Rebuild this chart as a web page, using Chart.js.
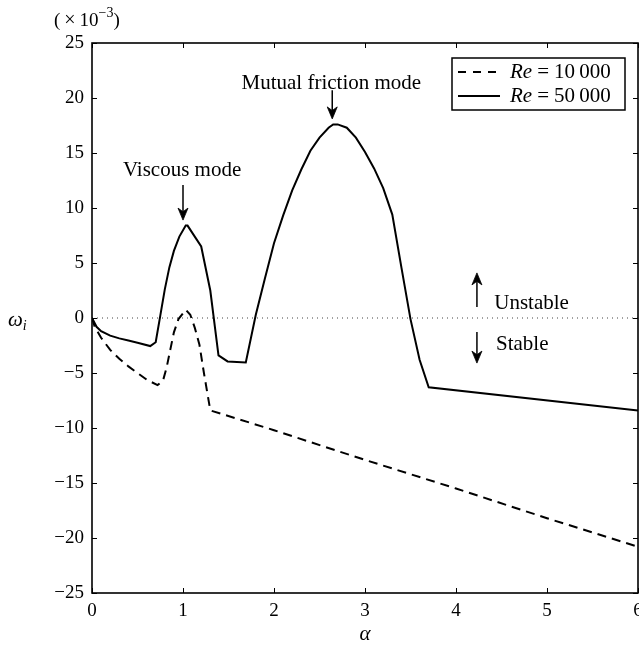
<!DOCTYPE html>
<html>
<head>
<meta charset="utf-8">
<script src="https://cdn.jsdelivr.net/npm/chart.js@4.4.1/dist/chart.umd.min.js"></script>
<style>
html,body{margin:0;padding:0;background:#fff;}
#wrap{width:639px;height:648px;}
</style>
</head>
<body>
<div id="wrap"><canvas id="c" width="639" height="648"></canvas></div>
<script>
// ---- data (omega_i in units of 1e-3) ----
const alphaRe10k = [0,0.03,0.1,0.2,0.3,0.4,0.5,0.6,0.72,0.78,0.82,0.86,0.9,0.95,1.03,1.08,1.13,1.18,1.23,1.3,2,3,4,5,6];
const omegaRe10k = [0,-0.8,-1.8,-2.9,-3.7,-4.4,-5.0,-5.6,-6.1,-5.7,-4.5,-2.9,-1.3,-0.1,0.75,0.3,-0.9,-2.4,-5.0,-8.4,-10.2,-12.9,-15.5,-18.2,-20.8];

const alphaRe50k = [0,0.05,0.1,0.2,0.3,0.4,0.5,0.64,0.7,0.75,0.8,0.85,0.9,0.96,1.03,1.05,1.2,1.3,1.39,1.49,1.69,1.8,1.9,2.0,2.1,2.2,2.3,2.4,2.5,2.6,2.65,2.7,2.8,2.9,3.0,3.1,3.2,3.3,3.4,3.5,3.6,3.7,6];
const omegaRe50k = [0,-0.8,-1.2,-1.6,-1.85,-2.05,-2.25,-2.55,-2.2,0.2,2.6,4.6,6.1,7.4,8.4,8.4,6.5,2.5,-3.4,-3.95,-4.05,0.3,3.6,6.8,9.3,11.6,13.5,15.2,16.4,17.3,17.6,17.6,17.3,16.4,15.1,13.6,11.8,9.4,4.6,-0.1,-3.8,-6.3,-8.4];

const seriesLabels = ['Re = 10\u2009000', 'Re = 50\u2009000'];
const xTicks = [0,1,2,3,4,5,6];
const yTicks = [-25,-20,-15,-10,-5,0,5,10,15,20,25];

const SERIF = '"Liberation Serif", "DejaVu Serif", serif';

function pts(xs, ys){ return xs.map((x,i)=>({x:x, y:ys[i]})); }

const overlay = {
  id:'overlay',
  afterDraw(chart){
    const ctx = chart.ctx, a = chart.chartArea;
    const xs = chart.scales.x, ys = chart.scales.y;
    const X = v=>xs.getPixelForValue(v), Y = v=>ys.getPixelForValue(v);
    ctx.save();
    // frame
    ctx.strokeStyle='#000'; ctx.lineWidth=1.6;
    ctx.strokeRect(a.left, a.top, a.right-a.left, a.bottom-a.top);
    // inward ticks
    ctx.lineWidth=1;
    const tl=5;
    ctx.beginPath();
    xTicks.forEach(t=>{ const px=Math.round(X(t))+0.5;
      ctx.moveTo(px,a.bottom); ctx.lineTo(px,a.bottom-tl);
      ctx.moveTo(px,a.top); ctx.lineTo(px,a.top+tl); });
    yTicks.forEach(t=>{ const py=Math.round(Y(t))+0.5;
      ctx.moveTo(a.left,py); ctx.lineTo(a.left+tl,py);
      ctx.moveTo(a.right,py); ctx.lineTo(a.right-tl,py); });
    ctx.stroke();

    // arrows
    function arrow(x1,y1,x2,y2){
      ctx.strokeStyle='#000'; ctx.fillStyle='#000'; ctx.lineWidth=1.5;
      const ang=Math.atan2(y2-y1,x2-x1), L=12, W=5;
      const ux=Math.cos(ang), uy=Math.sin(ang);
      ctx.beginPath(); ctx.moveTo(x1,y1);
      ctx.lineTo(x2-ux*7, y2-uy*7); ctx.stroke();
      const bx=x2-ux*L, by=y2-uy*L;
      const nx=-uy, ny=ux;
      const mx=x2-ux*L*0.7, my=y2-uy*L*0.7;
      ctx.beginPath(); ctx.moveTo(x2,y2);
      ctx.lineTo(bx+nx*W, by+ny*W);
      ctx.lineTo(mx,my);
      ctx.lineTo(bx-nx*W, by-ny*W);
      ctx.closePath(); ctx.fill();
      ctx.lineWidth=0.8; ctx.stroke();
    }
    ctx.fillStyle='#000';
    ctx.font='21px '+SERIF;
    ctx.textBaseline='middle';
    ctx.textAlign='center';
    ctx.fillText('Mutual friction mode', X(2.63), Y(21.3));
    arrow(X(2.64), Y(20.7), X(2.64), Y(18.1));
    ctx.fillText('Viscous mode', X(0.99), Y(13.45));
    arrow(X(1.0), Y(12.1), X(1.0), Y(8.9));
    ctx.textAlign='left';
    arrow(X(4.23), Y(1.0), X(4.23), Y(4.1));
    ctx.fillText('Unstable', X(4.42), Y(1.36));
    arrow(X(4.23), Y(-1.27), X(4.23), Y(-4.1));
    ctx.fillText('Stable', X(4.44), Y(-2.45));

    // legend
    const lx=452, ly=58, lw=173, lh=52;
    ctx.fillStyle='#fff'; ctx.fillRect(lx,ly,lw,lh);
    ctx.strokeStyle='#000'; ctx.lineWidth=1.5; ctx.strokeRect(lx,ly,lw,lh);
    const ds=chart.data.datasets;
    [0,1].forEach((i,k)=>{
      const yy = ly+14+k*24;
      ctx.beginPath(); ctx.strokeStyle='#000'; ctx.lineWidth=2;
      ctx.setLineDash(i===0 ? [8,7] : []);
      ctx.moveTo(458,yy); ctx.lineTo(500,yy); ctx.stroke();
      ctx.setLineDash([]);
      const lab = ds[i].label;
      const parts = lab.split(' = ');
      ctx.fillStyle='#000';
      ctx.font='italic 21px '+SERIF;
      ctx.fillText(parts[0], 510, yy);
      let x = 510 + ctx.measureText(parts[0]).width + 5;
      ctx.font='21px '+SERIF;
      ctx.fillText('=', x, yy);
      x += ctx.measureText('=').width + 5;
      ctx.fillText(parts[1], x, yy);
    });

    // axis labels
    ctx.font='italic 21px '+SERIF;
    ctx.textAlign='center';
    ctx.fillText('\u03b1', X(3), 634);
    ctx.textAlign='left';
    ctx.fillText('\u03c9', 8, 320);
    const ww = ctx.measureText('\u03c9').width;
    ctx.font='italic 14px '+SERIF;
    ctx.fillText('i', 8+ww, 326);
    // multiplier
    ctx.font='19px '+SERIF;
    let x0 = 54;
    ctx.fillText('(', x0, 21); x0 += ctx.measureText('(').width + 4;
    ctx.font='20px '+SERIF;
    ctx.fillText('\u00d7', x0, 21); x0 += ctx.measureText('\u00d7').width + 4;
    ctx.font='19px '+SERIF;
    ctx.fillText('10', x0, 21); x0 += ctx.measureText('10').width;
    ctx.font='14px '+SERIF;
    ctx.fillText('\u22123', x0, 13); x0 += ctx.measureText('\u22123').width;
    ctx.font='19px '+SERIF;
    ctx.fillText(')', x0, 21);
    ctx.restore();
  }
};

new Chart(document.getElementById('c'), {
  type:'line',
  data:{
    datasets:[
      { label: seriesLabels[0], data: pts(alphaRe10k, omegaRe10k), borderColor:'#000', borderWidth:2,
        borderDash:[9,6], pointRadius:0, tension:0, fill:false },
      { label: seriesLabels[1], data: pts(alphaRe50k, omegaRe50k), borderColor:'#000', borderWidth:2,
        pointRadius:0, tension:0, fill:false },
      { label:'zero', data: pts([0,6],[0,0]), borderColor:'#444', borderWidth:1, borderDash:[1,4],
        pointRadius:0, tension:0, fill:false, order:5 }
    ]
  },
  options:{
    responsive:false, animation:false,
    layout:{ padding:{ top:43, right:1, left:0, bottom:0 } },
    plugins:{ legend:{display:false}, tooltip:{enabled:false} },
    scales:{
      x:{ type:'linear', min:0, max:6,
        afterFit(s){ s.height=55; s.paddingLeft=0; s.paddingRight=0; },
        afterBuildTicks(s){ s.ticks = xTicks.map(v=>({value:v})); },
        grid:{ display:false, drawTicks:false }, border:{ display:false },
        ticks:{ color:'#000', font:{ family:SERIF, size:19 }, padding:7, maxRotation:0,
          callback:v=>String(v) } },
      y:{ type:'linear', min:-25, max:25,
        afterFit(s){ s.width=92; s.paddingTop=0; s.paddingBottom=0; },
        afterBuildTicks(s){ s.ticks = yTicks.map(v=>({value:v})); },
        grid:{ display:false, drawTicks:false }, border:{ display:false },
        ticks:{ color:'#000', font:{ family:SERIF, size:19 }, padding:8,
          callback:v=> v<0 ? '\u2212'+Math.abs(v) : String(v) } }
    }
  },
  plugins:[overlay]
});
</script>
</body>
</html>
